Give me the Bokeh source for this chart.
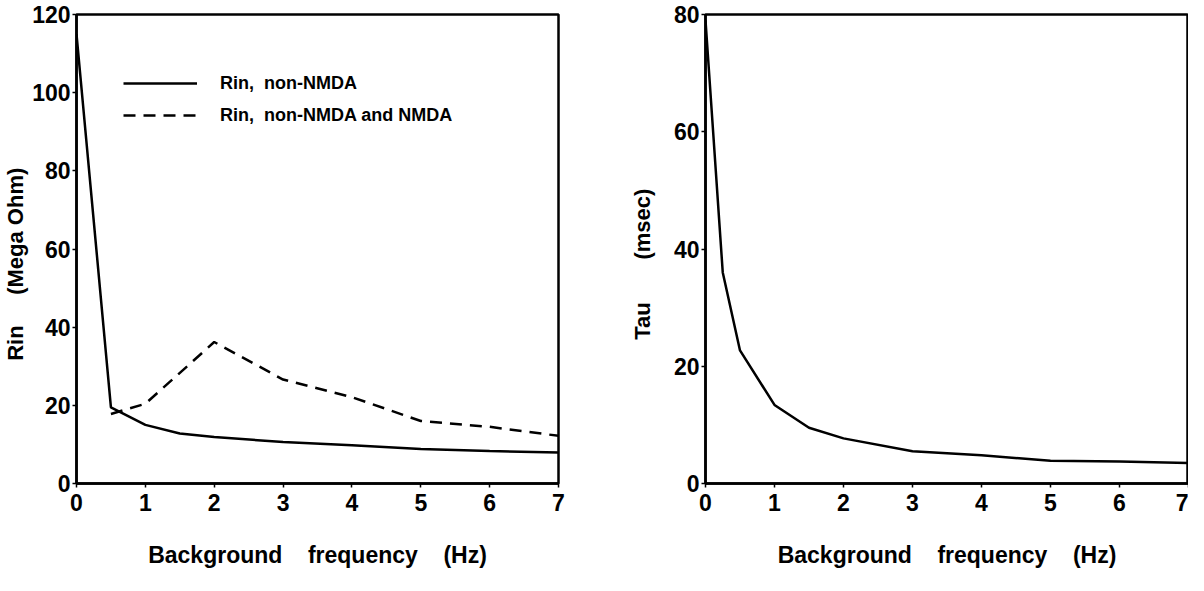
from bokeh.plotting import figure
from bokeh.layouts import row
from bokeh.models import FixedTicker, Range1d, Legend, LegendItem
from bokeh.embed import file_html
from bokeh.resources import INLINE

# ---- data ----
freq_rin = [0, 0.5, 1, 1.5, 2, 3, 4, 5, 6, 7]
rin_non_nmda = [115, 19.5, 15, 12.8, 11.9, 10.6, 9.8, 8.8, 8.3, 7.9]
freq_rin_nmda = [0.5, 1, 2, 3, 4, 5, 6, 7]
rin_nmda = [17.8, 20.4, 36.2, 26.6, 22.1, 16.0, 14.5, 12.2]

freq_tau = [0, 0.25, 0.5, 1, 1.5, 2, 3, 4, 5, 6, 7]
tau = [79, 36, 22.7, 13.4, 9.5, 7.7, 5.5, 4.8, 3.9, 3.75, 3.5]

x_ticks = [0, 1, 2, 3, 4, 5, 6, 7]
rin_ticks = [0, 20, 40, 60, 80, 100, 120]
tau_ticks = [0, 20, 40, 60, 80]

FONT = "Liberation Sans"
NB = "\u00a0"
xlabel = "Background" + NB * 4 + "frequency" + NB * 4 + "(Hz)"


def style(p, yticks, ylabel, ylab_standoff):
    p.outline_line_color = "black"
    p.outline_line_width = 2.5
    p.outline_line_alpha = 1
    p.grid.visible = False
    p.xaxis.ticker = FixedTicker(ticks=x_ticks)
    p.yaxis.ticker = FixedTicker(ticks=yticks)
    for ax in (p.xaxis, p.yaxis):
        ax.axis_line_width = 2.5
        ax.axis_line_color = "black"
        ax.major_tick_in = 0
        ax.major_tick_out = 4
        ax.major_tick_line_width = 1.5
        ax.major_tick_line_color = "black"
        ax.minor_tick_line_color = None
        ax.major_label_text_font = FONT
        ax.major_label_text_font_style = "bold"
        ax.major_label_text_font_size = "23px"
        ax.major_label_text_color = "black"
        ax.axis_label_text_font = FONT
        ax.axis_label_text_font_style = "bold"
        ax.axis_label_text_color = "black"
    p.xaxis.axis_label_text_font_size = "23px"
    p.yaxis.axis_label_text_font_size = "22px"
    p.xaxis.axis_label = xlabel
    p.xaxis.major_label_standoff = 6
    p.xaxis.axis_label_standoff = 28
    p.yaxis.axis_label = ylabel
    p.yaxis.major_label_standoff = 2
    p.yaxis.axis_label_standoff = ylab_standoff


# ---- left panel ----
p1 = figure(width=622, height=575, output_backend="svg", toolbar_location=None,
            x_range=Range1d(0, 7), y_range=Range1d(0, 120),
            min_border_left=73, min_border_right=64, min_border_top=14, min_border_bottom=92)
style(p1, rin_ticks, "Rin" + NB * 5 + "(Mega" + NB + "Ohm)" + NB * 5, 1)
r1 = p1.line(freq_rin, rin_non_nmda, line_color="black", line_width=2.5)
r2 = p1.line(freq_rin_nmda, rin_nmda, line_color="black", line_width=2.5, line_dash="12 8")
legend = Legend(items=[LegendItem(label="Rin," + NB + NB + "non-NMDA", renderers=[r1]),
                       LegendItem(label="Rin," + NB + NB + "non-NMDA and NMDA", renderers=[r2])],
                location=(47, 357))
legend.border_line_color = None
legend.background_fill_alpha = 0
legend.label_text_font = FONT
legend.label_text_font_style = "bold"
legend.label_text_font_size = "18px"
legend.label_text_color = "black"
legend.glyph_width = 74
legend.glyph_height = 22
legend.label_height = 22
legend.label_standoff = 23
legend.spacing = 10
legend.padding = 0
p1.add_layout(legend)

# ---- right panel ----
p2 = figure(width=566, height=575, output_backend="svg", toolbar_location=None,
            x_range=Range1d(0, 7), y_range=Range1d(0, 80),
            min_border_left=83, min_border_right=0, min_border_top=14, min_border_bottom=92)
style(p2, tau_ticks, "Tau" + NB * 7 + "(msec)" + NB * 5, 16)
p2.line(freq_tau, tau, line_color="black", line_width=2.5)

layout = row(p1, p2)
open("out.html", "w").write(file_html(layout, INLINE))
